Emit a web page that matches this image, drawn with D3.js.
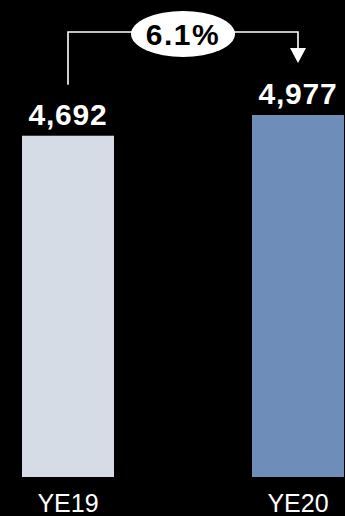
<!DOCTYPE html>
<html>
<head>
<meta charset="utf-8">
<script src="https://cdn.jsdelivr.net/npm/d3@7"></script>
<style>
  html, body { margin: 0; padding: 0; background: #000; }
  svg { display: block; }
</style>
</head>
<body>
<svg id="chart" width="345" height="516"></svg>
<script>
// Year-end totals
const categories = ["YE19", "YE20"];
const values = [4692, 4977];
const barColors = ["#D6DCE5", "#6F8DB9"];
const growthLabel = "6.1%";

const W = 345, H = 516;
const svg = d3.select("#chart");
svg.append("rect").attr("width", W).attr("height", H).attr("fill", "#000");

const x = d3.scaleBand()
  .domain(categories)
  .range([0, 366])
  .paddingInner(0.6)
  .paddingOuter(22 / 230);

const y = d3.scaleLinear()
  .domain([0, d3.max(values)])
  .range([477, 115]);

const data = categories.map((c, i) => ({ c, v: values[i], color: barColors[i] }));

// Bars
svg.selectAll("rect.bar")
  .data(data)
  .join("rect")
  .attr("class", "bar")
  .attr("x", d => x(d.c))
  .attr("y", d => y(d.v))
  .attr("width", x.bandwidth())
  .attr("height", d => y(0) - y(d.v))
  .attr("fill", d => d.color);

// Value labels
const fmt = d3.format(",");
svg.selectAll("text.val")
  .data(data)
  .join("text")
  .attr("class", "val")
  .attr("x", d => x(d.c) + x.bandwidth() / 2)
  .attr("y", d => y(d.v) - 11)
  .attr("text-anchor", "middle")
  .attr("fill", "#fff")
  .attr("font-family", "Liberation Sans, Arial, sans-serif")
  .attr("font-weight", "bold")
  .attr("font-size", 30)
  .attr("letter-spacing", 0.8)
  .text(d => fmt(d.v));

// Category axis labels
const xAxis = d3.axisBottom(x).tickSize(0).tickPadding(0);
const ax = svg.append("g").attr("transform", `translate(0, ${H - 22})`).call(xAxis);
ax.select(".domain").remove();
ax.selectAll("text")
  .attr("fill", "#fff")
  .attr("font-family", "Liberation Sans, Arial, sans-serif")
  .attr("font-size", 25)
  .attr("dy", 0)
  .attr("y", 18);

// Growth bracket with arrow
const x0 = x(categories[0]) + x.bandwidth() / 2;
const x1 = x(categories[1]) + x.bandwidth() / 2;
const topY = 32;
const startY = y(values[0]) - 51;
const tipY = y(values[1]) - 52;
const headH = 15, headW = 8;

svg.append("path")
  .attr("d", `M${x0},${startY} V${topY} H${x1} V${tipY - headH}`)
  .attr("fill", "none")
  .attr("stroke", "#fff")
  .attr("stroke-width", 1.6);

svg.append("path")
  .attr("d", `M${x1 - headW},${tipY - headH} L${x1 + headW},${tipY - headH} L${x1},${tipY} Z`)
  .attr("fill", "#fff");

const cx = (x0 + x1) / 2;
svg.append("ellipse")
  .attr("cx", cx)
  .attr("cy", 34)
  .attr("rx", 52)
  .attr("ry", 23)
  .attr("fill", "#fff");

svg.append("text")
  .attr("x", cx)
  .attr("y", 45)
  .attr("text-anchor", "middle")
  .attr("fill", "#000")
  .attr("font-family", "Liberation Sans, Arial, sans-serif")
  .attr("font-weight", "bold")
  .attr("font-size", 30)
  .attr("letter-spacing", 1.5)
  .text(growthLabel);
</script>
</body>
</html>
